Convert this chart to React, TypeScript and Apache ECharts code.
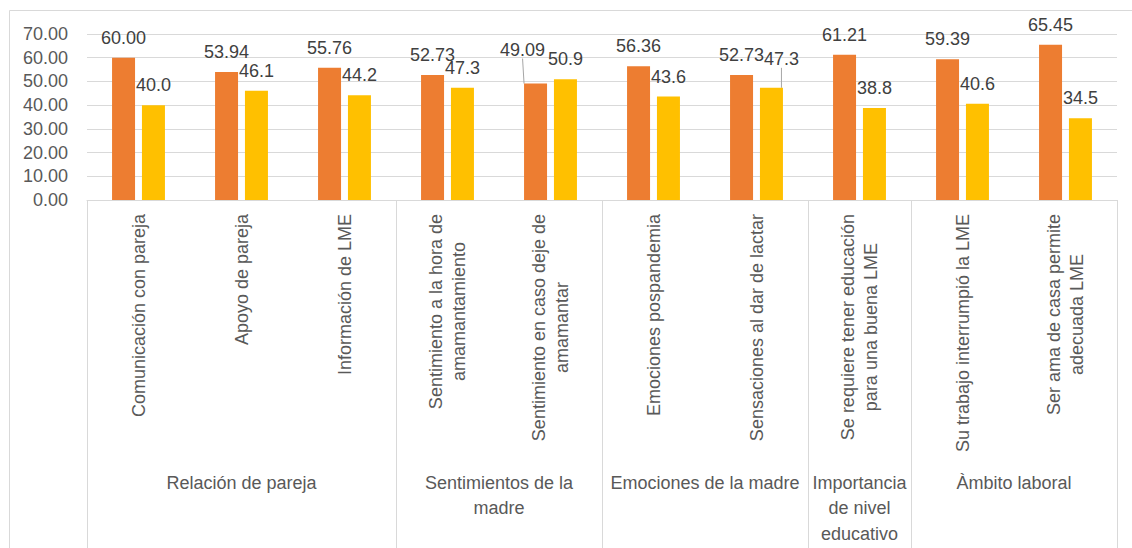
import React, { useEffect, useRef } from "react";
import * as echarts from "echarts";

const categories = [
  "Comunicación con pareja",
  "Apoyo de pareja",
  "Información de LME",
  "Sentimiento a la hora de\namamantamiento",
  "Sentimiento en caso deje de\namamantar",
  "Emociones pospandemia",
  "Sensaciones al dar de lactar",
  "Se requiere tener educación\npara una buena LME",
  "Su trabajo interrumpió la LME",
  "Ser ama de casa permite\nadecuada LME",
];
const orangeValues = [60.0, 53.94, 55.76, 52.73, 49.09, 56.36, 52.73, 61.21, 59.39, 65.45];
const yellowValues = [40.0, 46.1, 44.2, 47.3, 50.9, 43.6, 47.3, 38.8, 40.6, 34.5];
const groupNames = [
  "Relación de pareja",
  "Sentimientos de la\nmadre",
  "Emociones de la madre",
  "Importancia\nde nivel\neducativo",
  "Àmbito laboral",
];
const groupSizes = [3, 2, 2, 1, 2];
const yMin = 0;
const yMax = 70;
const yInterval = 10;

const FONT = "'Liberation Sans', Arial, sans-serif";
const AXIS_COLOR = "#595959";
const LABEL_COLOR = "#404040";
const LINE_COLOR = "#d9d9d9";

export default function App() {
  const ref = useRef<HTMLDivElement>(null);

  useEffect(() => {
    if (!ref.current) return;
    const chart = echarts.init(ref.current, undefined, { renderer: "svg" });

    const boundaries: number[] = [0];
    const centers: number[] = [];
    const centerNames: Record<string, string> = {};
    let acc = 0;
    groupSizes.forEach((s, i) => {
      const c = acc + s / 2;
      centers.push(c);
      centerNames[String(c)] = groupNames[i];
      acc += s;
      boundaries.push(acc);
    });

    const orangeData = orangeValues.map((v, i) =>
      i === 4 ? { value: v, labelLine: { show: true } } : { value: v }
    );
    const yellowData = yellowValues.map((v, i) =>
      i === 6 ? { value: v, labelLine: { show: true } } : { value: v }
    );

    const labelLineStyle = { color: "#a6a6a6", width: 1 };

    chart.setOption({
      animation: false,
      backgroundColor: "#ffffff",
      textStyle: { fontFamily: FONT },
      graphic: [
        {
          type: "rect",
          silent: true,
          shape: { x: 9.5, y: 10.5, width: 1140, height: 600 },
          style: { fill: "none", stroke: LINE_COLOR, lineWidth: 1 },
        },
      ],
      grid: { left: 87, top: 34, width: 1030, height: 166, containLabel: false },
      xAxis: [
        {
          type: "category",
          data: categories,
          axisLine: { show: true, lineStyle: { color: LINE_COLOR, width: 1 } },
          axisTick: { show: false },
          splitLine: { show: false },
          axisLabel: {
            interval: 0,
            rotate: 90,
            margin: 14,
            hideOverlap: false,
            formatter: (v: string) =>
              v
                .split("\n")
                .map((l) => `{c|${l}}`)
                .join("\n"),
            rich: {
              c: {
                align: "center",
                fontSize: 18,
                lineHeight: 23,
                color: AXIS_COLOR,
                fontFamily: FONT,
              },
            },
          },
        },
        {
          type: "value",
          position: "bottom",
          min: 0,
          max: categories.length,
          axisLine: { show: false },
          splitLine: { show: false },
          axisTick: {
            show: true,
            customValues: boundaries,
            length: 360,
            lineStyle: { color: LINE_COLOR, width: 1 },
          },
          axisLabel: {
            customValues: centers,
            margin: 270,
            fontSize: 18,
            lineHeight: 25.5,
            color: AXIS_COLOR,
            fontFamily: FONT,
            formatter: (v: number) => centerNames[String(v)] ?? "",
          },
        },
      ],
      yAxis: {
        type: "value",
        min: yMin,
        max: yMax,
        interval: yInterval,
        axisLine: { show: false },
        axisTick: { show: false },
        splitLine: { lineStyle: { color: LINE_COLOR, width: 1 } },
        axisLabel: {
          margin: 19,
          fontSize: 18,
          color: AXIS_COLOR,
          fontFamily: FONT,
          formatter: (v: number) => v.toFixed(2),
        },
      },
      series: [
        {
          type: "bar",
          xAxisIndex: 0,
          data: orangeData,
          barWidth: 23,
          barGap: "30%",
          itemStyle: { color: "#ED7D31" },
          label: {
            show: true,
            position: "top",
            distance: 11,
            fontSize: 18,
            color: LABEL_COLOR,
            fontFamily: FONT,
            formatter: (p: any) => Number(p.value).toFixed(2),
          },
          labelLine: { show: false, lineStyle: labelLineStyle },
          labelLayout: (p: any) => (p.dataIndex === 4 ? { dx: -13, dy: -14 } : {}),
        },
        {
          type: "bar",
          xAxisIndex: 0,
          data: yellowData,
          barWidth: 23,
          barGap: "30%",
          itemStyle: { color: "#FFC000" },
          label: {
            show: true,
            position: "top",
            distance: 11,
            fontSize: 18,
            color: LABEL_COLOR,
            fontFamily: FONT,
            formatter: (p: any) => Number(p.value).toFixed(1),
          },
          labelLine: { show: false, lineStyle: labelLineStyle },
          labelLayout: (p: any) => (p.dataIndex === 6 ? { dx: 10, dy: -9 } : {}),
        },
      ],
    });

    return () => chart.dispose();
  }, []);

  return (
    <div
      ref={ref}
      style={{ position: "fixed", left: 0, top: 0, width: 1132, height: 548, background: "#fff" }}
    />
  );
}
